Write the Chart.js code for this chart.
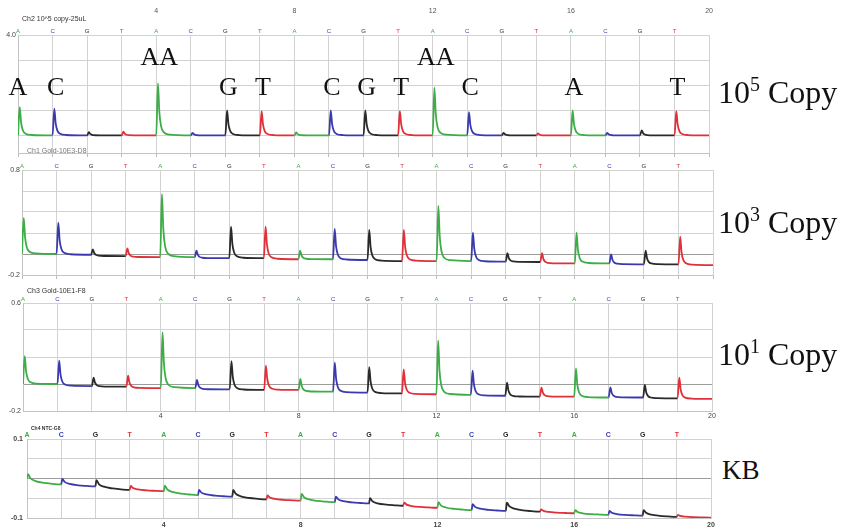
<!DOCTYPE html>
<html lang="en">
<head>
    <meta charset="UTF-8">
    <title>Pyrogram</title>
    <style>
        body {
            margin: 0;
            width: 842px;
            height: 532px;
            position: relative;
            overflow: hidden;
            background: #fff;
            font-family: "Liberation Sans", Arial, sans-serif;
        }

        canvas {
            position: absolute;
            left: 0;
        }

        .hdr {
            position: absolute;
            font-size: 7px;
            color: #333;
            white-space: nowrap;
        }

        .copy {
            position: absolute;
            left: 718px;
            font-family: "Liberation Serif", "Times New Roman", serif;
            font-size: 32px;
            line-height: 32px;
            color: #111;
            white-space: nowrap;
        }

        .copy sup {
            font-size: 20px;
            line-height: 0;
            vertical-align: 12px;
        }
    </style>
</head>
<body>

    <canvas id="p1" width="720" height="160" style="top:0px"></canvas>
    <canvas id="p2" width="722" height="125" style="top:157px"></canvas>
    <canvas id="p3" width="722" height="133" style="top:290px"></canvas>
    <canvas id="p4" width="721" height="104" style="top:426px"></canvas>

    <div class="hdr" style="left:22px; top:15px;">Ch2 10^5 copy-25uL</div>
    <div class="hdr" style="left:27px; top:147px; height:6px; overflow:hidden; color:#777;">Ch1 Gold-10E3-D8</div>
    <div class="hdr" style="left:27px; top:287px;">Ch3 Gold-10E1-F8</div>
    <div class="hdr" style="left:31px; top:425px; font-size:5px; font-weight:bold;">Ch4 NTC-G8</div>

    <div class="copy" style="top:76px;">10<sup>5</sup> Copy</div>
    <div class="copy" style="top:206px;">10<sup>3</sup> Copy</div>
    <div class="copy" style="top:338px;">10<sup>1</sup> Copy</div>
    <div class="copy" style="top:457px; left:722px; font-size:27px; line-height:27px;">KB</div>

    <script src="https://cdn.jsdelivr.net/npm/chart.js"></script>
    <script>
        // dispensation order and axis ticks
        const dispensations = ['A','C','G','T','A','C','G','T','A','C','G','T','A','C','G','T','A','C','G','T'];
        const gridTicks = [0,1,2,3,4,5,6,7,8,9,10,11,12,13,14,15,16,17,18,19,20];
        const numberTicks = [4, 8, 12, 16, 20];
        const nucColors = { A: '#3cae45', C: '#3a3aae', G: '#2a2a2a', T: '#e0303a' };

        // peak tops and baseline level after each dispensation (signal units)
        const p1Peaks = [1.13, 1.07, 0.13, 0.15, 2.07, 0.10, 1.00, 0.97, 0.12, 1.00, 1.00, 0.97, 1.90, 0.93, 0.10, 0.08, 1.00, 0.10, 0.20, 0.97];
        const p1Base  = [0, 0, 0, 0, 0, 0, 0, 0, 0, 0, 0, 0, 0, 0, 0, 0, 0, 0, 0, 0];
        const p2Peaks = [0.345, 0.298, 0.045, 0.054, 0.569, 0.031, 0.26, 0.26, 0.031, 0.238, 0.229, 0.229, 0.457, 0.203, 0.007, 0.007, 0.203, -0.003, 0.031, 0.165];
        const p2Base  = [0.0, -0.007, -0.02, -0.03, -0.03, -0.04, -0.04, -0.05, -0.05, -0.057, -0.067, -0.067, -0.067, -0.073, -0.076, -0.09, -0.09, -0.098, -0.098, -0.105];
        const p3Peaks = [0.207, 0.173, 0.047, 0.061, 0.383, 0.03, 0.17, 0.136, 0.037, 0.158, 0.124, 0.109, 0.321, 0.099, 0.01, -0.027, 0.116, -0.025, -0.007, 0.047];
        const p3Base  = [0.0, -0.015, -0.02, -0.03, -0.03, -0.04, -0.044, -0.044, -0.057, -0.064, -0.07, -0.076, -0.08, -0.087, -0.094, -0.094, -0.1, -0.1, -0.106, -0.11];
        const p4Peaks = [0.011, -0.001, -0.004, -0.019, -0.018, -0.029, -0.029, -0.043, -0.039, -0.046, -0.05, -0.061, -0.06, -0.065, -0.061, -0.078, -0.08, -0.082, -0.08, -0.092];
        const p4Base  = [-0.015, -0.02, -0.029, -0.032, -0.042, -0.046, -0.053, -0.056, -0.06, -0.063, -0.069, -0.074, -0.08, -0.082, -0.084, -0.088, -0.092, -0.094, -0.097, -0.099];

        // y gridlines per panel
        const p1YTicks = [-0.7, 0, 1, 2, 3, 4];
        const p2YTicks = [-0.2, 0, 0.2, 0.4, 0.6, 0.8];
        const p3YTicks = [-0.2, 0, 0.2, 0.4, 0.6];
        const p4YTicks = [-0.1, -0.05, 0, 0.05, 0.1];

        // base calls written over the top trace
        const callText  = ['A', 'C', 'AA', 'G', 'T', 'C', 'G', 'T', 'AA', 'C', 'A', 'T'];
        const callPos   = [0, 1, 4, 6, 7, 9, 10, 11, 12, 13, 16, 19];
        const callLevel = [1.88, 1.88, 3.08, 1.88, 1.88, 1.88, 1.88, 1.88, 3.08, 1.88, 1.88, 1.88];

        // peak profile: offset after the dispensation and share of the peak left
        const fastShape = { at: [0.05, 0.09, 0.14, 0.22, 0.4, 0.97], left: [1, 0.45, 0.18, 0.06, 0.015, 0] };
        const slowShape = { at: [0.03, 0.1, 0.25, 0.5, 0.75, 0.97], left: [1, 0.6, 0.33, 0.15, 0.06, 0] };

        function trace(peaks, base, start, shape) {
            const pts = [];
            let prev = start;
            for (let i = 0; i < dispensations.length; i++) {
                pts.push({ x: i, y: prev });
                shape.at.forEach((o, k) => {
                    pts.push({ x: i + o, y: base[i] + (peaks[i] - base[i]) * shape.left[k] });
                });
                prev = base[i];
            }
            pts.push({ x: 20, y: prev });
            return pts;
        }

        const callsPlugin = {
            id: 'calls',
            afterDatasetsDraw(chart) {
                if (chart.canvas.id !== 'p1') return;
                const c = chart.ctx;
                c.save();
                c.font = '26px "Liberation Serif", "Times New Roman", serif';
                c.fillStyle = '#111';
                c.textAlign = 'center';
                c.textBaseline = 'middle';
                callText.forEach((t, i) => {
                    const nudge = callPos[i] === 0 ? 0 : 3;
                    c.fillText(t, chart.scales.x.getPixelForValue(callPos[i]) + nudge, chart.scales.y.getPixelForValue(callLevel[i]));
                });
                c.restore();
            }
        };

        function makePanel(id, cfg) {
            const scales = {
                x: {
                    type: 'linear', position: 'bottom', min: 0, max: 20,
                    afterBuildTicks: s => { s.ticks = gridTicks.map(v => ({ value: v })); },
                    afterFit: s => { s.height = cfg.bottomH; },
                    grid: { color: '#d2d2d2', drawTicks: cfg.bottomTicks, tickLength: 4, tickColor: '#bbb' },
                    border: { color: '#c4c4c4' },
                    ticks: {
                        display: cfg.bottomNumbers, autoSkip: false, maxRotation: 0, padding: cfg.numPad,
                        font: { size: 7, weight: cfg.bold ? 'bold' : 'normal' }, color: '#444',
                        callback: v => numberTicks.includes(v) ? String(v) : ''
                    }
                },
                xDisp: {
                    type: 'linear', position: 'top', min: 0, max: 20, weight: 0,
                    afterBuildTicks: s => { s.ticks = dispensations.map((d, i) => ({ value: i })); },
                    afterFit: s => { s.height = 13; },
                    grid: { display: false, drawTicks: false },
                    border: { display: false },
                    ticks: {
                        autoSkip: false, maxRotation: 0, padding: 0,
                        font: { size: cfg.bold ? 7 : 6, weight: cfg.bold ? 'bold' : 'normal' },
                        color: c => nucColors[dispensations[c.index]],
                        callback: (v, i) => dispensations[i]
                    }
                },
                y: {
                    min: cfg.yTicks[0], max: cfg.yTicks[cfg.yTicks.length - 1],
                    afterBuildTicks: s => { s.ticks = cfg.yTicks.map(v => ({ value: v })); },
                    afterFit: s => { s.width = cfg.left; },
                    grid: { drawTicks: false, color: c => (c.tick && c.tick.value === 0 && cfg.zeroDark) ? '#9c9c9c' : '#d2d2d2' },
                    border: { color: '#c4c4c4' },
                    ticks: {
                        padding: cfg.yPad, color: '#444',
                        font: { size: 7, weight: cfg.bold ? 'bold' : 'normal' },
                        callback: v => cfg.yLabels.includes(v) ? v.toFixed(1) : ''
                    }
                }
            };
            if (cfg.topNumbers) {
                scales.xNum = {
                    type: 'linear', position: 'top', min: 0, max: 20, weight: 1,
                    afterBuildTicks: s => { s.ticks = numberTicks.map(v => ({ value: v })); },
                    afterFit: s => { s.height = 22; },
                    grid: { display: false, drawTicks: false },
                    border: { display: false },
                    ticks: { autoSkip: false, maxRotation: 0, padding: 7, font: { size: 7 }, color: '#555' }
                };
            }
            return new Chart(document.getElementById(id), {
                type: 'line',
                data: {
                    datasets: [{
                        data: trace(cfg.peaks, cfg.base, cfg.start, cfg.shape),
                        borderWidth: 1.8,
                        pointRadius: 0,
                        cubicInterpolationMode: 'monotone',
                        borderColor: '#333',
                        segment: {
                            borderColor: c => nucColors[dispensations[Math.min(19, Math.floor(c.p0.parsed.x + 1e-9))]]
                        }
                    }]
                },
                options: {
                    responsive: false,
                    animation: false,
                    layout: { padding: { right: cfg.right, top: 0, bottom: 0, left: 0 } },
                    plugins: { legend: { display: false }, tooltip: { enabled: false } },
                    scales: scales
                },
                plugins: [callsPlugin]
            });
        }

        makePanel('p1', {
            peaks: p1Peaks, base: p1Base, start: 0, shape: fastShape,
            yTicks: p1YTicks, yLabels: [4], left: 18, right: 10, yPad: 2,
            bottomH: 7, bottomTicks: true, bottomNumbers: false, numPad: 0,
            topNumbers: true, zeroDark: false, bold: false
        });
        makePanel('p2', {
            peaks: p2Peaks, base: p2Base, start: 0, shape: fastShape,
            yTicks: p2YTicks, yLabels: [0.8, -0.2], left: 22, right: 9, yPad: 2,
            bottomH: 7, bottomTicks: true, bottomNumbers: false, numPad: 0,
            topNumbers: false, zeroDark: true, bold: false
        });
        makePanel('p3', {
            peaks: p3Peaks, base: p3Base, start: 0, shape: fastShape,
            yTicks: p3YTicks, yLabels: [0.6, -0.2], left: 23, right: 10, yPad: 2,
            bottomH: 12, bottomTicks: false, bottomNumbers: true, numPad: 1,
            topNumbers: false, zeroDark: true, bold: false
        });
        makePanel('p4', {
            peaks: p4Peaks, base: p4Base, start: 0, shape: slowShape,
            yTicks: p4YTicks, yLabels: [0.1, -0.1], left: 27, right: 10, yPad: 4,
            bottomH: 12, bottomTicks: false, bottomNumbers: true, numPad: 3,
            topNumbers: false, zeroDark: true, bold: true
        });
    </script>

</body>
</html>
